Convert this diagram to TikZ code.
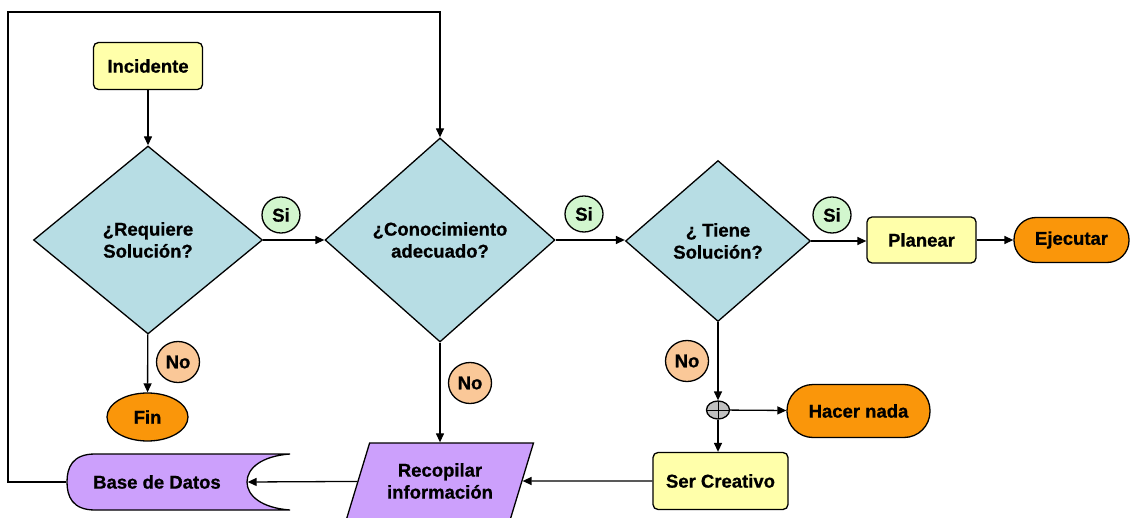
\documentclass[tikz,border=0pt]{standalone}
\usepackage{fontspec}
\setmainfont{Liberation Sans}[BoldFeatures={FakeBold=0.8}]
\usetikzlibrary{shapes.geometric,arrows.meta}

\definecolor{decfill}{RGB}{183,221,228}
\definecolor{procfill}{RGB}{255,255,170}
\definecolor{termfill}{RGB}{250,150,10}
\definecolor{datfill}{RGB}{204,160,252}
\definecolor{sifill}{RGB}{210,246,206}
\definecolor{nofill}{RGB}{250,200,152}
\definecolor{joinfill}{RGB}{192,192,192}

\begin{document}
\begin{tikzpicture}[x=1pt,y=-1pt,>={Triangle[length=9pt,width=8pt]},line width=1.3pt,
    every node/.style={font=\bfseries\fontsize{18.5}{22}\selectfont, align=center, inner sep=0pt},
    decision/.style={diamond, draw, fill=decfill},
    proc/.style={rectangle, rounded corners=5pt, draw, fill=procfill},
    term/.style={rectangle, rounded corners=22pt, draw, fill=termfill},
    sibox/.style={ellipse, draw, fill=sifill, minimum width=38pt, minimum height=36pt},
    nobox/.style={ellipse, draw, fill=nofill, minimum width=43pt, minimum height=41pt}]
  \useasboundingbox (0,0) rectangle (1131,518);
  % contorno de la base de datos
  \draw[fill=datfill] (95,454) .. controls (72,454) and (67,468) .. (67,482)
    .. controls (67,496) and (72,510) .. (95,510) -- (290,510)
    .. controls (262,508) and (247,496) .. (247,482)
    .. controls (247,468) and (262,456) .. (290,454) -- cycle;

  \node (inc) [proc, minimum width=109pt, minimum height=47pt] at (148,66) {Incidente};
  \node (d1) [decision, minimum width=229pt, minimum height=188pt] at (148,240) {¿Requiere\\Solución?};
  \node (d2) [decision, minimum width=230pt, minimum height=204pt] at (440,240) {¿Conocimiento\\adecuado?};
  \node (d3) [decision, minimum width=185pt, minimum height=161pt] at (718,241) {¿ Tiene\\Solución?};
  \node (plan) [proc, minimum width=109pt, minimum height=46pt] at (921.5,240) {Planear};
  \node (ejec) [term, minimum width=115pt, minimum height=45pt] at (1071.5,240) {Ejecutar};
  \node (fin) [ellipse, draw, fill=termfill, minimum width=81pt, minimum height=48pt] at (147.5,417) {Fin};
  \node (join) [ellipse, draw, fill=joinfill, minimum width=23pt, minimum height=18pt,
    path picture={\draw[line width=1pt] (path picture bounding box.north) -- (path picture bounding box.south)
      (path picture bounding box.west) -- (path picture bounding box.east);}] at (718,410) {};
  \node (nada) [term, rounded corners=26pt, minimum width=143pt, minimum height=53pt] at (858.5,411) {Hacer nada};
  \node (ser) [proc, minimum width=135pt, minimum height=57pt] at (720.5,481) {Ser Creativo};
  \node (reco) [trapezium, trapezium left angle=64, trapezium right angle=116, trapezium stretches=true,
    draw, fill=datfill, minimum width=187pt, minimum height=76pt] at (440,481) {Recopilar\\información};
  \node (bdd) [minimum width=180pt, minimum height=56pt] at (157,482) {Base de Datos};

  \node (si1) [sibox] at (281,215) {Si};
  \node (si2) [sibox] at (584,214) {Si};
  \node (si3) [sibox] at (832,215) {Si};
  \node (no1) [nobox] at (178,362) {No};
  \node (no2) [nobox] at (470,383) {No};
  \node (no3) [nobox] at (687,361) {No};

  \coordinate (esq) at (8,12);
  \draw[->] (inc) -- (d1);
  \draw[->] (d1) -- (d2);
  \draw[->] (d2.east) -- (d2.east -| d3.west);
  \draw[->] (d3.east) -- (d3.east -| plan.west);
  \draw[->] (plan) -- (ejec);
  \draw[->] (d1) -- (fin);
  \draw[->] (d2) -- (reco);
  \draw[->] (d3) -- (join);
  \draw[->] (join) -- (nada);
  \draw[->] (join) -- (join |- ser.north);
  \draw[->] (ser) -- (reco);
  \draw[->] (reco) -- (bdd.east);
  \draw[->] (bdd.west) -| (esq) -| (d2.north);
\end{tikzpicture}
\end{document}
